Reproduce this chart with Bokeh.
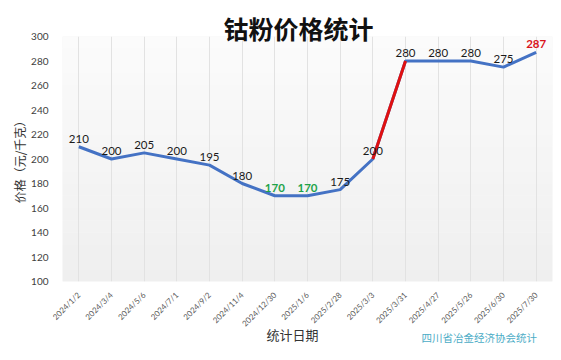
import math
from bokeh.plotting import figure
from bokeh.models import FixedTicker, ColumnDataSource, Title, BoxAnnotation
from bokeh.core.properties import value
from bokeh.embed import file_html
from bokeh.resources import INLINE

dates = ["2024/1/2", "2024/3/4", "2024/5/6", "2024/7/1", "2024/9/2", "2024/11/4",
         "2024/12/30", "2025/1/6", "2025/2/28", "2025/3/3", "2025/3/31", "2025/4/27",
         "2025/5/26", "2025/6/30", "2025/7/30"]
prices = [210, 200, 205, 200, 195, 180, 170, 170, 175, 200, 280, 280, 280, 275, 287]
y_ticks = [100, 120, 140, 160, 180, 200, 220, 240, 260, 280, 300]

title_text = "钴粉价格统计"
x_title = "统计日期"
y_title = "价格（元/千克）"
source_text = "四川省冶金经济协会统计"

lo = min(prices)
label_colors = ["#1fa34a" if v == lo else ("#d9141c" if i == len(prices) - 1 else "#1a1a1a")
                for i, v in enumerate(prices)]
label_styles = ["bold" if c != "#1a1a1a" else "normal" for c in label_colors]

src = ColumnDataSource(dict(x=dates, y=prices, t=[str(v) for v in prices],
                            c=label_colors, s=label_styles))

p = figure(x_range=dates, y_range=(100, 300), width=556, height=350,
           output_backend="svg", toolbar_location=None,
           min_border_left=62, min_border_right=4, min_border_top=36, min_border_bottom=69)
p.background_fill_color = "#f6f6f6"
p.border_fill_color = "white"
p.outline_line_color = None

# soft vertical gradient in the plot area
nb = 20
for k in range(nb):
    f = k / (nb - 1)
    g = int(round(0xef + (0xfb - 0xef) * f))
    p.add_layout(BoxAnnotation(bottom=100 + 200 * k / nb, top=100 + 200 * (k + 1) / nb,
                               fill_color="#%02x%02x%02x" % (g, g, g), fill_alpha=1.0,
                               line_color=None, level="image"))

p.title.text = title_text
p.title.text_font = "Noto Sans CJK SC"
p.title.text_font_size = "25px"
p.title.text_font_style = "bold"
p.title.text_color = "#111111"
p.title.align = "left"
p.title.offset = 161
p.title.standoff = -18

p.xgrid.grid_line_color = "#e2e2e2"
p.ygrid.grid_line_color = None

p.yaxis.ticker = FixedTicker(ticks=y_ticks)
for ax in (p.xaxis, p.yaxis):
    ax.axis_line_color = None
    ax.major_tick_line_color = None
    ax.minor_tick_line_color = None
p.yaxis.major_label_text_font = "Lato"
p.yaxis.major_label_text_font_size = "10px"
p.yaxis.major_label_text_color = "#404040"
p.yaxis.major_label_standoff = 8
p.yaxis.axis_label = y_title
p.yaxis.axis_label_text_font = "Noto Sans CJK SC"
p.yaxis.axis_label_text_font_size = "12px"
p.yaxis.axis_label_text_font_style = "normal"
p.yaxis.axis_label_text_color = "#333333"
p.yaxis.axis_label_standoff = 0
p.xaxis.major_label_text_font = "Lato"
p.xaxis.major_label_text_font_size = "8px"
p.xaxis.major_label_text_color = "#595959"
p.xaxis.major_label_orientation = math.pi / 4
p.xaxis.major_label_standoff = 6

p.line(x="x", y="y", source=src, line_color="#4472c4", line_width=3)
p.line(x=dates[9:11], y=prices[9:11], line_color="#e01010", line_width=3)

p.text(x="x", y="y", text="t", source=src, text_color="c", text_font_style="s",
       text_font=value("Lato"), text_font_size="11.5px", text_align="center",
       text_baseline="bottom", y_offset=-4)

p.add_layout(Title(text=x_title, align="left", offset=204, standoff=-19,
                   vertical_align="top",
                   text_font="Noto Sans CJK SC", text_font_size="13px",
                   text_font_style="normal", text_color="#333333"), "below")
p.add_layout(Title(text=source_text, align="left", offset=359, standoff=-14,
                   vertical_align="top",
                   text_font="Noto Sans CJK SC", text_font_size="10.5px",
                   text_font_style="normal", text_color="#4bacc6"), "below")

open("out.html", "w").write(file_html(p, INLINE))
